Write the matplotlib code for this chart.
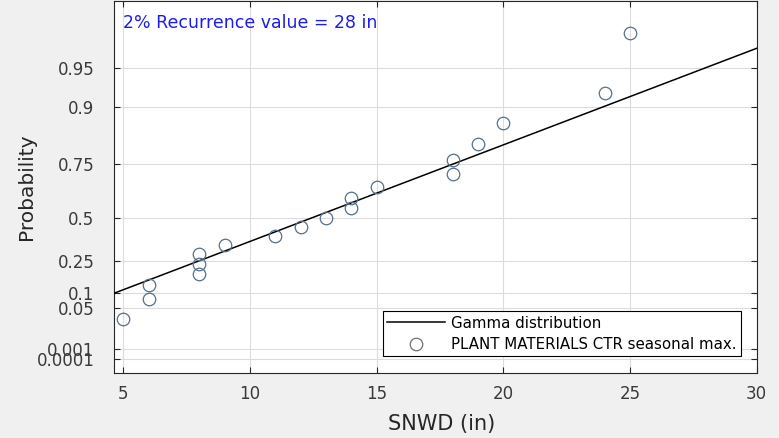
import math
import numpy as np
import matplotlib
matplotlib.use('Agg')
import matplotlib.pyplot as plt

# seasonal max snow depth (in) and their plotting positions
snwd = [5, 6, 6, 8, 8, 8, 9, 11, 12, 13, 14, 14, 15, 18, 18, 19, 20, 24, 25]
prob = [0.026, 0.079, 0.132, 0.184, 0.237, 0.289, 0.342, 0.395, 0.447, 0.5,
        0.553, 0.605, 0.658, 0.711, 0.763, 0.816, 0.868, 0.921, 0.974]

prob_ticks = [0.0001, 0.001, 0.05, 0.1, 0.25, 0.5, 0.75, 0.9, 0.95]
prob_labels = ['0.0001', '0.001', '0.05', '0.1', '0.25', '0.5', '0.75', '0.9', '0.95']
x_ticks = [5, 10, 15, 20, 25, 30]

# fitted gamma (shape, scale, location)
shape = 5
scale = 3.467
loc = -3.745


def gam_cdf(g):
    g = np.clip(np.asarray(g, float), 0, None)
    s = sum(g**j / math.factorial(j) for j in range(shape))
    return 1 - np.exp(-g) * s


def gam_ppf(p):
    p = np.clip(np.asarray(p, float), 1e-15, 1 - 1e-15)
    lo = np.zeros_like(p)
    hi = np.full_like(p, 60.0)
    for _ in range(80):
        mid = (lo + hi) / 2
        below = gam_cdf(mid) < p
        lo = np.where(below, mid, lo)
        hi = np.where(below, hi, mid)
    return (lo + hi) / 2


fig = plt.figure(figsize=(7.79, 4.38), dpi=100, facecolor='#f0f0f0')
ax = fig.add_axes([0.14634, 0.14909, 0.82503, 0.84863])
ax.set_facecolor('white')
ax.set_yscale('function', functions=(gam_ppf, gam_cdf))

##fitted line
xs = np.linspace(4.633, 30, 300)
ax.plot(xs, gam_cdf((xs - loc) / scale), color='black', lw=1.1,
        label='Gamma distribution', zorder=3)
##observations
ax.plot(snwd, prob, ls='none', marker='o', ms=9, mfc='none', mec='#55708a',
        mew=0.9, label='PLANT MATERIALS CTR seasonal max.', zorder=4)

ax.set_xlim(4.633, 30)
ax.set_ylim(gam_cdf(0.0443), gam_cdf(11.146))
ax.set_xticks(x_ticks)
ax.set_xticklabels([str(v) for v in x_ticks])
ax.set_yticks(prob_ticks)
ax.set_yticklabels(prob_labels)
ax.minorticks_off()

ax.grid(True, color='#dcdcdc', lw=0.8)
ax.set_axisbelow(True)
for sp in ax.spines.values():
    sp.set_color('#262626')
    sp.set_linewidth(0.8)
ax.tick_params(direction='in', length=4, width=0.8, top=True, right=True,
               labelsize=12, colors='#262626', labelcolor='#3a3a3a')
ax.tick_params(axis='y', pad=14)
ax.tick_params(axis='x', pad=9)

ax.set_xlabel('SNWD (in)', fontsize=15, color='#262626')
ax.set_ylabel('Probability', fontsize=14.5, color='#262626')
ax.xaxis.set_label_coords(0.51, -0.111)
ax.yaxis.set_label_coords(-0.122, 0.5)

ax.text(0.0145, 0.966, '2% Recurrence value = 28 in', transform=ax.transAxes,
        color='#1c1cf0', fontsize=12.5, ha='left', va='top')

leg = ax.legend(loc='lower right', bbox_to_anchor=(0.9756, 0.0449),
                borderaxespad=0, fontsize=10.8, fancybox=False, framealpha=1,
                edgecolor='black', handlelength=3.9, handletextpad=0.4,
                borderpad=0.28, labelspacing=0.42)
leg.get_frame().set_linewidth(0.8)
leg.legend_handles[1].set_markeredgecolor('#707070')

plt.savefig('out.png', dpi=100, facecolor=fig.get_facecolor())
